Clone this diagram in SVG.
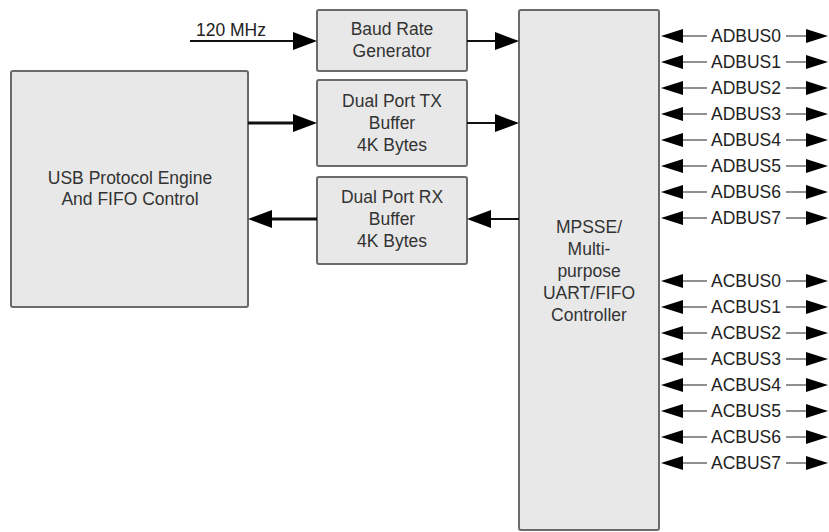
<svg xmlns="http://www.w3.org/2000/svg" width="829" height="532" viewBox="0 0 829 532">
<defs>
<style>
.box{fill:#e8e8e8;stroke:#6a6a6a;stroke-width:2}
.t{font-family:"Liberation Sans",Arial,sans-serif;font-size:17.5px;fill:#333;text-anchor:middle}
.bt{font-family:"Liberation Sans",Arial,sans-serif;font-size:17.5px;fill:#222;text-anchor:middle}
.c{stroke:#111;stroke-width:2;fill:none}
.thick{stroke-width:3.2}
.bus{stroke:#222;stroke-width:1.2;fill:none}
.bus .l{marker-start:url(#bh)}
.bus .r{marker-end:url(#bh)}
</style>
<marker id="ah" markerUnits="userSpaceOnUse" markerWidth="24" markerHeight="18" refX="18" refY="9" orient="auto"><path d="M0,0 L24,9 L0,18 z" fill="#000"/></marker>
<marker id="bh" markerUnits="userSpaceOnUse" markerWidth="22" markerHeight="14" refX="16" refY="7" orient="auto-start-reverse"><path d="M0,0 L22,7 L0,14 z" fill="#000"/></marker>
</defs>
<rect width="829" height="532" fill="#fff"/>

<g id="usb">
<rect class="box" x="11" y="71" width="237" height="236" rx="2"/>
<text class="t" x="130" y="184">USB Protocol Engine</text>
<text class="t" x="130" y="205">And FIFO Control</text>
</g>
<g id="baud">
<rect class="box" x="317" y="10" width="150" height="61" rx="2"/>
<text class="t" x="392" y="35">Baud Rate</text>
<text class="t" x="392" y="57">Generator</text>
</g>
<g id="txbuf">
<rect class="box" x="317" y="80" width="150" height="86" rx="2"/>
<text class="t" x="392" y="107">Dual Port TX</text>
<text class="t" x="392" y="129">Buffer</text>
<text class="t" x="392" y="151">4K Bytes</text>
</g>
<g id="rxbuf">
<rect class="box" x="317" y="177" width="150" height="87" rx="2"/>
<text class="t" x="392" y="203">Dual Port RX</text>
<text class="t" x="392" y="225">Buffer</text>
<text class="t" x="392" y="247">4K Bytes</text>
</g>
<g id="mpsse">
<rect class="box" x="519" y="10" width="140" height="520" rx="2"/>
<text class="t" x="589" y="233">MPSSE/</text>
<text class="t" x="589" y="255">Multi-</text>
<text class="t" x="589" y="277">purpose</text>
<text class="t" x="589" y="299">UART/FIFO</text>
<text class="t" x="589" y="321">Controller</text>
</g>
<g id="clk">
<text class="bt" x="231" y="36">120 MHz</text>
</g>

<g id="connectors">
<path class="c" d="M190,41 H311" marker-end="url(#ah)"/>
<path class="c thick" d="M248,123 H311" marker-end="url(#ah)"/>
<path class="c" d="M467,41 H513" marker-end="url(#ah)"/>
<path class="c" d="M467,123 H513" marker-end="url(#ah)"/>
<path class="c" d="M519,219 H473" stroke="#333" marker-end="url(#ah)"/>
<path class="c thick" d="M317,219 H254" marker-end="url(#ah)"/>
<g class="bus">
<path class="l" d="M667,36 H707"/><path class="r" d="M786,36 H822"/>
<path class="l" d="M667,62 H707"/><path class="r" d="M786,62 H822"/>
<path class="l" d="M667,88 H707"/><path class="r" d="M786,88 H822"/>
<path class="l" d="M667,114 H707"/><path class="r" d="M786,114 H822"/>
<path class="l" d="M667,140 H707"/><path class="r" d="M786,140 H822"/>
<path class="l" d="M667,166 H707"/><path class="r" d="M786,166 H822"/>
<path class="l" d="M667,192 H707"/><path class="r" d="M786,192 H822"/>
<path class="l" d="M667,218 H707"/><path class="r" d="M786,218 H822"/>
<path class="l" d="M667,281 H707"/><path class="r" d="M786,281 H822"/>
<path class="l" d="M667,307 H707"/><path class="r" d="M786,307 H822"/>
<path class="l" d="M667,333 H707"/><path class="r" d="M786,333 H822"/>
<path class="l" d="M667,359 H707"/><path class="r" d="M786,359 H822"/>
<path class="l" d="M667,385 H707"/><path class="r" d="M786,385 H822"/>
<path class="l" d="M667,411 H707"/><path class="r" d="M786,411 H822"/>
<path class="l" d="M667,437 H707"/><path class="r" d="M786,437 H822"/>
<path class="l" d="M667,463 H707"/><path class="r" d="M786,463 H822"/>
</g>
</g>

<g id="buslabels">
<text class="bt" x="746" y="42">ADBUS0</text>
<text class="bt" x="746" y="68">ADBUS1</text>
<text class="bt" x="746" y="94">ADBUS2</text>
<text class="bt" x="746" y="120">ADBUS3</text>
<text class="bt" x="746" y="146">ADBUS4</text>
<text class="bt" x="746" y="172">ADBUS5</text>
<text class="bt" x="746" y="198">ADBUS6</text>
<text class="bt" x="746" y="224">ADBUS7</text>
<text class="bt" x="746" y="287">ACBUS0</text>
<text class="bt" x="746" y="313">ACBUS1</text>
<text class="bt" x="746" y="339">ACBUS2</text>
<text class="bt" x="746" y="365">ACBUS3</text>
<text class="bt" x="746" y="391">ACBUS4</text>
<text class="bt" x="746" y="417">ACBUS5</text>
<text class="bt" x="746" y="443">ACBUS6</text>
<text class="bt" x="746" y="469">ACBUS7</text>
</g>
</svg>
